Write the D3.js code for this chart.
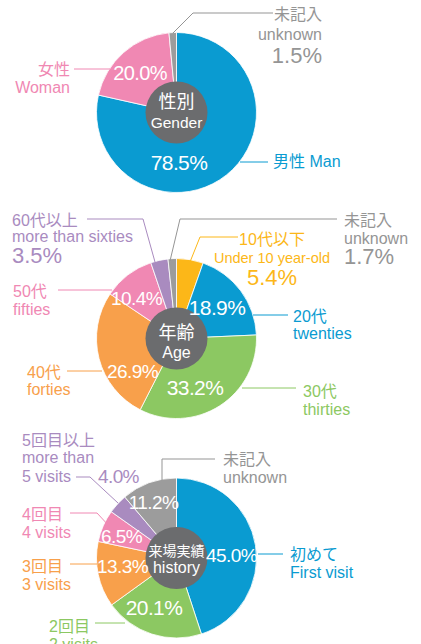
<!DOCTYPE html>
<html><head><meta charset="utf-8">
<script src="https://cdn.jsdelivr.net/npm/d3@7"></script>
<style>
html,body{margin:0;padding:0;background:#fff;}
svg{display:block;font-family:"Liberation Sans","Noto Sans CJK JP",sans-serif;}
</style></head>
<body><svg id="c" width="421" height="644"></svg>
<script>
// ---------- DATA ----------
const genderJa = ["男性", "女性", "未記入"];
const genderEn = ["Man", "Woman", "unknown"];
const genderValues = [78.5, 20.0, 1.5];

const ageJa = ["10代以下", "20代", "30代", "40代", "50代", "60代以上", "未記入"];
const ageEn = ["Under 10 year-old", "twenties", "thirties", "forties", "fifties", "more than sixties", "unknown"];
const ageValues = [5.4, 18.9, 33.2, 26.9, 10.4, 3.5, 1.7];

const visitJa = ["初めて", "2回目", "3回目", "4回目", "5回目以上", "未記入"];
const visitEn = ["First visit", "2 visits", "3 visits", "4 visits", "more than|5 visits", "unknown"];
const visitValues = [45.0, 20.1, 13.3, 6.5, 4.0, 11.2];

const centerJa = ["性別", "年齢", "来場実績"];
const centerEn = ["Gender", "Age", "history"];

// ---------- STYLE / LAYOUT ----------
const C = {blue:"#0a9bd1", pink:"#f088b3", gray:"#9c9c9c", green:"#8cc862", orange:"#f8a04b", purple:"#a98bbf", yellow:"#fcb718", dark:"#6b6c6e"};
const grayText = "#959595";
const genderColors = [C.blue, C.pink, C.gray];
const ageColors = [C.yellow, C.blue, C.green, C.orange, C.pink, C.purple, C.gray];
const visitColors = [C.blue, C.green, C.orange, C.pink, C.purple, C.gray];

const R = 80, RC = 31;
const centers = [[176.5, 112.5], [176.5, 338.5], [176.5, 558]];

// inside % label: [x, baseline, size] (null = outside)
const genderIn = [[179, 170, 21], [140, 80, 20], null];
const ageIn = [null, [217, 315, 21], [195, 395, 21], [132.5, 378, 19], [136.5, 305, 19], null, null];
const visitIn = [[231.5, 562, 19], [154, 615, 21], [122.5, 573, 19], [121.5, 543, 19], [117.5, 483, 19], [153.5, 509, 19]];

// outside label blocks: x, anchor, baselines for [ja, en lines..., pct], pct size, and leader polyline
const genderOut = [
  {x:273, a:"start", ja:167, en:null, inline:true, line:[[240,162],[268,162]]},
  {x:70, a:"end", ja:75, en:[93], line:[[74,69],[110,69]]},
  {x:322, a:"end", ja:20, en:[40], pct:63, line:[[173,33],[193,13],[273,13]]}
];
const ageOut = [
  {x:272, a:"middle", ja:245, en:[263], enSize:14.5, pct:285, line:[[190,262],[200,237],[238,237]]},
  {x:293, a:"start", ja:322, en:[339], line:[[253,315],[288,315]]},
  {x:303, a:"start", ja:397, en:[415], line:[[242,388],[296,388]]},
  {x:27, a:"start", ja:378, en:[395], line:[[67,371],[102,371]]},
  {x:13, a:"start", ja:297, en:[315], line:[[58,290],[112,290]]},
  {x:12, a:"start", ja:226, en:[242], pct:263, line:[[87,219],[143,219],[155,262]]},
  {x:344, a:"start", ja:226, en:[244], pct:264, line:[[170,261],[180,219],[337,219]]}
];
const visitOut = [
  {x:290, a:"start", ja:560, en:[578], line:[[258,554],[283,554]]},
  {x:49, a:"start", ja:632, en:[650], line:[[95,623],[125,623]]},
  {x:22, a:"start", ja:572, en:[590], line:[[70,564],[97,564]]},
  {x:22, a:"start", ja:520, en:[538], line:[[70,513],[97,513],[110,527]]},
  {x:22, a:"start", ja:446, en:[463,482], line:[[76,477],[90,477],[118,503]]},
  {x:223, a:"start", ja:465, en:[483], line:[[162,480],[162,459],[215,459]]}
];
const centerBase = [[108, 18, 128, 15.5], [339, 18, 358, 16], [556, 14, 573, 16]];

const svg = d3.select("#c");
const fmt = v => d3.format(".1f")(v) + "%";

function drawPie(i, ja, en, values, colors, inside, outside) {
  const [cx, cy] = centers[i];
  const g = svg.append("g");
  const pie = d3.pie().sort(null).value(d => d)(values);
  const arc = d3.arc().innerRadius(0).outerRadius(R);
  g.append("g").attr("transform", `translate(${cx},${cy})`)
    .selectAll("path").data(pie).join("path")
    .attr("d", arc).attr("fill", (d, k) => colors[k])
    .attr("stroke", "#fff").attr("stroke-width", 0.8);

  // leader lines
  const line = d3.line();
  outside.forEach((o, k) => {
    g.append("path").attr("d", line(o.line)).attr("fill", "none")
      .attr("stroke", colors[k] === C.gray ? grayText : colors[k]).attr("stroke-width", 1);
  });

  // center circle
  g.append("circle").attr("cx", cx).attr("cy", cy).attr("r", RC).attr("fill", C.dark);
  const cb = centerBase[i];
  g.append("text").attr("x", cx).attr("y", cb[0]).attr("text-anchor", "middle")
    .attr("font-size", cb[1]).attr("fill", "#fff").text(centerJa[i]);
  g.append("text").attr("x", cx).attr("y", cb[2]).attr("text-anchor", "middle")
    .attr("font-size", cb[3]).attr("fill", "#fff").text(centerEn[i]);

  // inside labels
  values.forEach((v, k) => {
    const p = inside[k];
    if (!p) return;
    const isWhite = !(i === 2 && k === 4);
    g.append("text").attr("y", p[1])
      .attr("text-anchor", isWhite ? "middle" : "start")
      .attr("x", isWhite ? p[0] : 98)
      .attr("font-size", p[2]).attr("letter-spacing", -0.6)
      .attr("fill", isWhite ? "#fff" : colors[k]).text(fmt(v));
  });

  // outside labels
  outside.forEach((o, k) => {
    const col = colors[k] === C.gray ? grayText : colors[k];
    const t = (y, s, str) => g.append("text").attr("x", o.x).attr("y", y)
      .attr("text-anchor", o.a).attr("font-size", s).attr("fill", col).text(str);
    if (o.inline) { t(o.ja, 16, ja[k] + " " + en[k]); return; }
    t(o.ja, 16, ja[k]);
    const enLines = en[k].split("|");
    o.en.forEach((y, j) => t(y, o.enSize || 16, enLines[j]));
    if (o.pct) t(o.pct, 22, fmt(values[k]));
  });
}

drawPie(0, genderJa, genderEn, genderValues, genderColors, genderIn, genderOut);
drawPie(1, ageJa, ageEn, ageValues, ageColors, ageIn, ageOut);
drawPie(2, visitJa, visitEn, visitValues, visitColors, visitIn, visitOut);
</script></body></html>
